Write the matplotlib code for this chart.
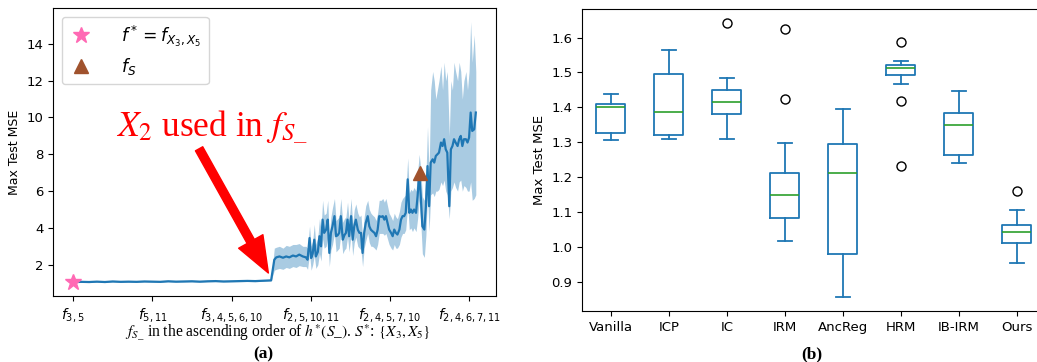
import matplotlib
matplotlib.use('Agg')
import matplotlib.pyplot as plt

# ---- panel (a): max test MSE of f_{S_-}, sorted by h*(S_-) ----
idx_left = list(range(0, 505, 20))
mse_left = [1.05, 1.07, 1.06, 1.08, 1.06, 1.09, 1.07, 1.08, 1.07, 1.09, 1.08, 1.07, 1.10,
            1.08, 1.09, 1.10, 1.08, 1.10, 1.11, 1.09, 1.10, 1.11, 1.12, 1.11, 1.13, 1.15]

idx_right = [508, 513, 521, 530, 538, 546, 555, 563, 571, 580, 588, 592, 597, 601, 605, 609,
             613, 618, 622, 626, 630, 634, 639, 643, 647, 651, 655, 660, 664, 668, 672, 676,
             681, 685, 689, 693, 697, 702, 706, 710, 714, 719, 723, 727, 731, 735, 739, 744,
             748, 752, 756, 761, 765, 769, 773, 778, 782, 786, 790, 794, 798, 803, 807, 811,
             815, 819, 824, 828, 832, 836, 840, 845, 849, 853, 857, 861, 866, 870, 874, 878,
             882, 887, 891, 895, 899, 903, 908, 912, 916, 920, 924, 929, 933, 937, 941, 945,
             950, 954, 958, 962, 966, 971, 975, 979, 983, 987, 992, 996, 1000, 1004, 1008,
             1013, 1017]
mse_right = [2.27, 2.40, 2.45, 2.38, 2.45, 2.40, 2.50, 2.45, 2.55, 2.45, 2.40, 2.27, 3.45, 2.36,
             2.60, 3.36, 2.45, 2.70, 3.55, 3.00, 4.45, 3.73, 3.91, 4.45, 2.64, 3.73, 4.09, 4.64,
             3.55, 3.60, 3.73, 4.64, 3.36, 3.60, 3.73, 4.45, 3.55, 4.64, 3.36, 4.09, 4.45, 3.90,
             3.73, 3.73, 2.64, 3.73, 4.27, 4.64, 4.09, 3.90, 3.82, 3.73, 3.55, 3.90, 4.64, 4.60,
             4.64, 4.45, 4.64, 4.27, 3.91, 3.73, 3.55, 3.91, 3.73, 3.64, 3.91, 4.45, 4.64, 4.64,
             4.82, 6.64, 4.82, 5.00, 4.82, 5.00, 4.82, 5.73, 7.00, 5.73, 4.09, 3.91, 5.18, 7.36,
             5.18, 7.55, 7.73, 7.55, 7.91, 8.00, 8.09, 8.64, 8.45, 8.82, 8.27, 8.09, 5.18, 8.27,
             8.45, 8.82, 8.64, 8.45, 8.82, 9.00, 8.45, 8.82, 8.82, 8.64, 8.91, 10.27, 9.27, 9.36,
             10.27]
low_right = [1.70, 1.75, 1.80, 1.75, 1.85, 1.80, 1.90, 1.85, 1.95, 1.90, 1.90, 1.75, 2.60, 1.70,
             2.00, 2.50, 1.80, 2.00, 2.60, 2.20, 3.40, 2.90, 3.00, 3.50, 1.90, 2.80, 3.10, 3.70,
             2.70, 2.80, 2.90, 3.70, 2.60, 2.80, 2.90, 3.50, 2.70, 3.70, 2.50, 3.20, 3.50, 3.00,
             2.90, 2.80, 1.90, 2.90, 3.30, 3.70, 3.20, 3.00, 3.00, 2.90, 2.80, 3.10, 3.70, 3.70,
             3.70, 3.60, 3.70, 3.40, 3.10, 2.90, 2.80, 3.10, 2.90, 2.90, 3.10, 3.50, 3.70, 3.70,
             3.90, 5.20, 3.90, 4.00, 3.80, 4.00, 3.80, 4.50, 5.50, 4.30, 2.60, 2.40, 3.60, 5.90,
             3.80, 5.80, 5.90, 5.70, 6.00, 6.00, 6.10, 6.50, 6.30, 6.60, 6.00, 5.80, 4.50, 6.00,
             6.20, 6.50, 6.20, 6.00, 6.50, 6.60, 6.00, 6.30, 6.20, 6.00, 6.00, 6.50, 5.50, 5.60,
             5.80]
high_right = [2.90, 2.95, 3.00, 2.90, 3.05, 3.00, 3.10, 3.10, 3.15, 3.00, 3.00, 2.90, 4.10, 3.00,
              3.30, 4.20, 3.10, 3.50, 4.50, 3.90, 5.50, 4.70, 4.80, 5.50, 3.50, 4.60, 5.10, 5.60,
              4.40, 4.50, 4.60, 5.60, 4.30, 4.50, 4.60, 5.40, 4.40, 5.60, 4.20, 5.00, 5.30, 4.80,
              4.60, 4.70, 3.50, 4.60, 5.20, 5.50, 5.00, 4.80, 4.70, 4.60, 4.40, 4.80, 5.50, 5.50,
              5.60, 5.40, 5.60, 5.20, 4.80, 4.60, 4.40, 4.80, 4.60, 4.50, 4.90, 5.40, 5.60, 5.70,
              5.80, 7.80, 5.90, 6.10, 6.00, 6.20, 6.00, 7.00, 8.00, 7.20, 5.70, 5.50, 6.80, 9.50,
              7.00, 11.50, 12.50, 12.00, 11.00, 11.50, 12.00, 12.80, 11.50, 13.00, 12.00, 12.50,
              9.00, 12.00, 11.50, 13.00, 12.50, 12.00, 13.00, 12.50, 11.00, 12.00, 12.50, 11.50,
              12.50, 15.20, 13.00, 14.50, 12.50]

idx_all = idx_left + idx_right
mse_all = mse_left + mse_right
low_all = [v - 0.03 for v in mse_left] + low_right
high_all = [v + 0.03 for v in mse_left] + high_right

star_idx, star_mse = 0, 1.05
tri_idx, tri_mse = 876, 7.0

tick_pos = [0, 200, 400, 600, 800, 1000]
tick_labels = [r'$f_{3,5}$', r'$f_{5,11}$', r'$f_{3,4,5,6,10}$',
               r'$f_{2,5,10,11}$', r'$f_{2,4,5,7,10}$', r'$f_{2,4,6,7,11}$']

# ---- panel (b): box statistics per method ----
methods = ['Vanilla', 'ICP', 'IC', 'IRM', 'AncReg', 'HRM', 'IB-IRM', 'Ours']
whislo = [1.306, 1.309, 1.308, 1.016, 0.855, 1.468, 1.239, 0.955]
q1 = [1.327, 1.321, 1.382, 1.084, 0.980, 1.493, 1.262, 1.010]
med = [1.400, 1.386, 1.414, 1.150, 1.211, 1.512, 1.349, 1.043]
q3 = [1.410, 1.496, 1.450, 1.212, 1.296, 1.520, 1.383, 1.063]
whishi = [1.437, 1.565, 1.485, 1.299, 1.396, 1.533, 1.448, 1.105]
fliers = [[], [], [1.643], [1.626, 1.424], [], [1.586, 1.417, 1.233], [], [1.161]]

blue = '#1f77b4'

fig = plt.figure(figsize=(10.37, 3.62), dpi=100)

ax1 = fig.add_axes([0.0511, 0.1823, 0.4272, 0.7956])
ax1.fill_between(idx_all, low_all, high_all, color=blue, alpha=0.38, linewidth=0)
ax1.plot(idx_all, mse_all, color=blue, linewidth=1.6)
ax1.plot([star_idx], [star_mse], linestyle='none', marker='*', color='#ff69b4', ms=12,
         label=r'$f^* = f_{X_3,X_5}$')
ax1.plot([tri_idx], [tri_mse], linestyle='none', marker='^', color='#a0522d', ms=10,
         label=r'$f_S$')
ax1.set_xticks(tick_pos)
ax1.set_xticklabels(tick_labels, fontsize=10)
ax1.tick_params(axis='y', labelsize=9.5)
ax1.set_ylabel('Max Test MSE', fontsize=9)
ax1.set_ylim(0.3, 15.95)
ax1.set_xlim(-51, 1068)
ax1.legend(loc='upper left', fontsize=12.3, handletextpad=1.6, borderpad=0.4,
           labelspacing=0.45, handlelength=1.5, borderaxespad=0.5)

ax1.annotate('', xy=(493, 1.55), xytext=(318, 8.3),
             arrowprops=dict(facecolor='red', edgecolor='red', width=6, headwidth=20,
                             headlength=26))
ax1.text(352, 9.45, r'$X_2$ used in $f_{S\_}$', color='red', fontsize=25.5, ha='center',
         va='center', family='Liberation Serif', math_fontfamily='stix')

fig.text(0.268, 0.08, r'$f_{S\_}$ in the ascending order of $h^{*}(S\_)$. $S^{*}$: $\{X_3, X_5\}$',
         ha='center', va='center', fontsize=11.2, family='Liberation Serif', math_fontfamily='stix')
fig.text(0.254, 0.02, '(a)', ha='center', va='center', fontsize=12.5, fontweight='bold',
         family='Liberation Serif')

ax2 = fig.add_axes([0.5612, 0.1409, 0.4474, 0.8343])
stats = []
for i in range(len(methods)):
    stats.append(dict(label=methods[i], whislo=whislo[i], q1=q1[i], med=med[i], q3=q3[i],
                      whishi=whishi[i], fliers=fliers[i]))
ax2.bxp(stats, widths=0.5, showfliers=True,
        boxprops=dict(color=blue, linewidth=1.3),
        whiskerprops=dict(color=blue, linewidth=1.3),
        capprops=dict(color=blue, linewidth=1.3),
        medianprops=dict(color='#2ca02c', linewidth=1.2),
        flierprops=dict(marker='o', markerfacecolor='none', markeredgecolor='black',
                        markersize=6.5))
ax2.set_xlim(0.5, 8.5)
ax2.set_ylim(0.816, 1.682)
ax2.tick_params(labelsize=9.5)
ax2.set_ylabel('Max Test MSE', fontsize=9.5)
fig.text(0.783, 0.02, '(b)', ha='center', va='center', fontsize=12.5, fontweight='bold',
         family='Liberation Serif')

fig.savefig('out.png', dpi=100)
